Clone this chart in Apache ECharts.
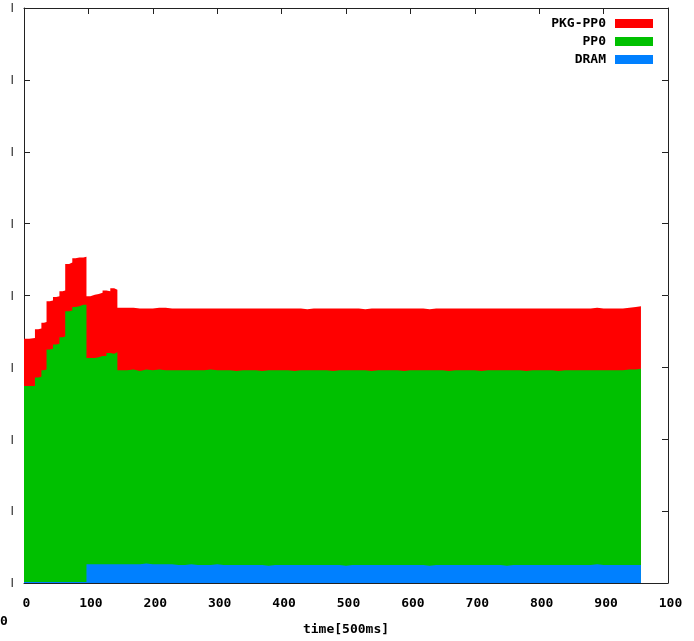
<!DOCTYPE html>
<html>
<head>
<meta charset="utf-8">
<script src="https://cdn.jsdelivr.net/npm/echarts@6/dist/echarts.min.js"></script>
<style>html,body{margin:0;padding:0;background:#fff}#c{width:694px;height:641px}</style>
</head>
<body>
<div id="c"></div>
<script>
// sample times (x axis, units of 500ms)
var times = [0,8,17,22,27,31,35,40,45,50,55,60,64,70,75,80,86,92,97,103,110,116,122,128,134,140,145,
  150,160,170,180,190,200,210,220,230,240,
  250,260,270,280,290,300,310,320,330,340,
  350,360,370,380,390,400,410,420,430,440,
  450,460,470,480,490,500,510,520,530,540,
  550,560,570,580,590,600,610,620,630,640,
  650,660,670,680,690,700,710,720,730,740,
  750,760,770,780,790,800,810,820,830,840,
  850,860,870,880,890,900,910,920,930,940,
  950,958];

var dram = [0.15,0.15,0.15,0.15,0.15,0.15,0.15,0.15,0.15,0.15,0.15,0.15,0.15,0.15,0.15,0.15,0.15,0.15,
  2.6,2.6,2.6,2.6,2.6,2.6,2.6,2.6,2.6,
  2.6,2.6,2.6,2.7,2.6,2.6,2.6,2.6,2.5,2.5,
  2.6,2.5,2.5,2.5,2.6,2.5,2.5,2.5,2.5,2.5,
  2.5,2.5,2.4,2.5,2.5,2.5,2.5,2.5,2.5,2.5,
  2.5,2.5,2.5,2.5,2.4,2.5,2.5,2.5,2.5,2.5,
  2.5,2.5,2.5,2.5,2.5,2.5,2.5,2.4,2.5,2.5,
  2.5,2.5,2.5,2.5,2.5,2.5,2.5,2.5,2.5,2.4,
  2.5,2.5,2.5,2.5,2.5,2.5,2.5,2.5,2.5,2.5,
  2.5,2.5,2.5,2.6,2.5,2.5,2.5,2.5,2.5,2.5,
  2.5,2.5];

var pp0 = [27.25,27.25,28.45,28.55,29.45,29.55,32.35,32.45,33.05,33.15,34.05,34.15,37.65,37.75,38.25,38.35,38.55,38.55,
  28.7,28.7,28.8,29.0,29.0,29.4,29.3,29.5,27.0,
  27.0,27.1,26.9,27.0,27.0,27.1,27.0,27.0,27.1,27.1,
  27.0,27.1,27.1,27.2,27.0,27.1,27.1,27.0,27.1,27.1,
  27.1,27.0,27.2,27.1,27.1,27.1,27.0,27.1,27.1,27.1,
  27.1,27.1,27.0,27.1,27.2,27.1,27.1,27.1,27.0,27.1,
  27.1,27.1,27.1,27.0,27.1,27.1,27.1,27.2,27.1,27.1,
  27.0,27.1,27.1,27.1,27.1,27.0,27.1,27.1,27.1,27.2,
  27.1,27.1,27.0,27.1,27.1,27.1,27.1,27.0,27.1,27.1,
  27.1,27.1,27.1,27.0,27.1,27.1,27.1,27.1,27.2,27.2,
  27.3,27.3];

var pkgMinusPp0 = [6.6,6.7,6.7,6.7,6.6,6.6,6.7,6.7,6.6,6.6,6.4,6.4,6.6,6.7,6.8,6.8,6.6,6.7,
  8.6,8.8,8.8,8.8,9.1,8.6,9.1,8.7,8.7,
  8.7,8.6,8.7,8.5,8.6,8.6,8.7,8.6,8.6,8.6,
  8.6,8.6,8.6,8.5,8.6,8.6,8.6,8.7,8.6,8.6,
  8.6,8.7,8.6,8.6,8.6,8.6,8.7,8.6,8.5,8.6,
  8.6,8.6,8.7,8.6,8.6,8.6,8.6,8.5,8.7,8.6,
  8.6,8.6,8.6,8.7,8.6,8.6,8.6,8.5,8.6,8.6,
  8.7,8.6,8.6,8.6,8.6,8.7,8.6,8.6,8.6,8.6,
  8.6,8.6,8.7,8.6,8.6,8.6,8.6,8.7,8.6,8.6,
  8.6,8.6,8.6,8.7,8.6,8.6,8.6,8.6,8.6,8.7,
  8.7,8.7];

var legendOrder = ['PKG-PP0', 'PP0', 'DRAM'];
var xTickLabels = {0:'0',100:'100',200:'200',300:'300',400:'400',500:'500',600:'600',700:'700',800:'800',900:'900',1000:'100'};
var yTickLabel = '|';
var xAxisTitle = 'time[500ms]';
var cornerText = '0';

var colors = {'DRAM':'#0080ff','PP0':'#00c000','PKG-PP0':'#ff0000'};

// stacked tops (DRAM at the bottom, PP0 above it, PKG-PP0 on top)
var topDram = dram.slice();
var topPp0 = dram.map(function(v,i){ return v + pp0[i]; });
var topPkg = topPp0.map(function(v,i){ return v + pkgMinusPp0[i]; });
var tops = {'PKG-PP0': topPkg, 'PP0': topPp0, 'DRAM': topDram};

var FONT = 'DejaVu Sans Mono';
var chart = echarts.init(document.getElementById('c'), null, {renderer:'canvas'});

function pairs(arr){ return times.map(function(t,i){ return [t, +arr[i].toFixed(3)]; }); }

// draw from the top layer down so each lower layer paints over the one above it
var series = ['PKG-PP0', 'PP0', 'DRAM'].map(function(n, k){
  return {
    name: n, type: 'line', step: 'end',
    showSymbol: false, symbol: 'none',
    itemStyle: {color: colors[n]},
    lineStyle: {width: 0, color: colors[n]},
    areaStyle: {color: colors[n], opacity: 1, origin: 'start'},
    data: pairs(tops[n]),
    z: 2 + k,
    silent: true
  };
});

var axisLine = {show: true, onZero: false, lineStyle: {color: '#222', width: 1}};
var tick = {show: true, inside: true, length: 6, lineStyle: {color: '#222', width: 1}};

chart.setOption({
  animation: false,
  backgroundColor: '#fff',
  grid: {left: 24, right: 26, top: 8, bottom: 57, containLabel: false},
  legend: {
    data: legendOrder, orient: 'vertical', right: 36, top: 12,
    align: 'right', itemWidth: 38, itemHeight: 9, itemGap: 5, icon: 'rect',
    textStyle: {fontFamily: FONT, fontSize: 13, fontWeight: 'bold', color: '#000', lineHeight: 13, padding: [0, 4, 0, 0]},
    selectedMode: false
  },
  xAxis: [{
    type: 'value', min: 0, max: 1000, interval: 100, position: 'bottom',
    axisLine: axisLine, axisTick: tick, splitLine: {show: false},
    axisLabel: {margin: 14, fontFamily: FONT, fontSize: 13, fontWeight: 'bold', color: '#000',
      padding: [0, 0, 0, 5], formatter: function(v){ return xTickLabels[v] || ''; }},
    name: xAxisTitle, nameLocation: 'middle', nameGap: 40,
    nameTextStyle: {fontFamily: FONT, fontSize: 13, fontWeight: 'bold', color: '#000'}
  }, {
    type: 'value', min: 0, max: 1000, interval: 100, position: 'top',
    axisLine: axisLine, axisTick: tick, splitLine: {show: false}, axisLabel: {show: false}
  }],
  yAxis: [{
    type: 'value', min: 0, max: 80, interval: 10, position: 'left',
    axisLine: axisLine, axisTick: tick, splitLine: {show: false},
    axisLabel: {margin: 9, fontFamily: 'DejaVu Sans Mono', fontSize: 9, fontWeight: 'bold', color: '#000',
      formatter: function(){ return yTickLabel; }}
  }, {
    type: 'value', min: 0, max: 80, interval: 10, position: 'right',
    axisLine: axisLine, axisTick: tick, splitLine: {show: false}, axisLabel: {show: false}
  }],
  graphic: [{
    type: 'text', left: 0, top: 615,
    style: {text: cornerText, font: 'bold 13px "DejaVu Sans Mono"', fill: '#000'}
  }],
  series: series
});
</script>
</body>
</html>
